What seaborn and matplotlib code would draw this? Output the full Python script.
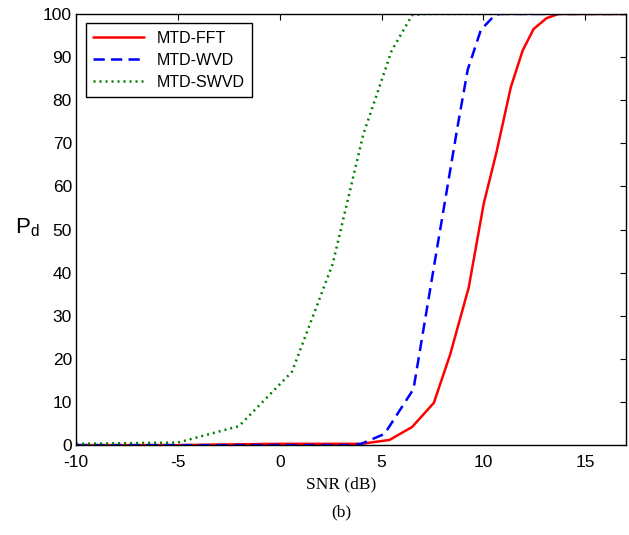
import matplotlib
matplotlib.use("Agg")
import matplotlib.pyplot as plt
import seaborn as sns
import pandas as pd

# ---- data ----
fft_snr = [-10, -5, 0, 2, 4, 5.39, 6.5, 7.57, 8.37, 9.28, 10.02, 10.65, 11.35, 11.93, 12.47, 13.1, 13.7, 17]
fft_pd = [0, 0, 0.3, 0.3, 0.3, 1.2, 4.2, 9.8, 21, 36.5, 56, 68, 83, 91.5, 96.5, 99, 100, 100]

wvd_snr = [-10, -5, 0, 3.5, 4.0, 5.15, 6.57, 7.65, 8.74, 9.23, 9.88, 10.46, 10.8, 17]
wvd_pd = [0, 0, 0, 0, 0.3, 2.6, 13, 43.5, 74, 87, 96.3, 99.2, 100, 100]

swvd_snr = [-10, -5, -2, 0.6, 2.6, 4.1, 5.5, 6.5, 7.2, 17]
swvd_pd = [0.3, 0.6, 4.4, 17, 42, 72, 91.5, 99.7, 100, 100]

labels = ["MTD-FFT", "MTD-WVD", "MTD-SWVD"]
colors = ["#ff0000", "#0000ff", "#008000"]
styles = ["-", (0, (4.5, 2.5)), (0, (0.8, 1.6))]

xticks = [-10, -5, 0, 5, 10, 15]
yticks = list(range(0, 101, 10))

frames = []
for lab, xs, ys in zip(labels, [fft_snr, wvd_snr, swvd_snr], [fft_pd, wvd_pd, swvd_pd]):
    frames.append(pd.DataFrame({"SNR": xs, "Pd": ys, "Method": lab}))
df = pd.concat(frames, ignore_index=True)

sns.set_theme(style="white")
plt.rcParams["font.family"] = ["Liberation Sans", "DejaVu Sans"]
plt.rcParams["axes.unicode_minus"] = False
plt.rcParams["text.color"] = "black"
plt.rcParams["axes.labelcolor"] = "black"
plt.rcParams["mathtext.fontset"] = "custom"
plt.rcParams["mathtext.rm"] = "Liberation Sans"
plt.rcParams["mathtext.it"] = "Liberation Sans"

fig = plt.figure(figsize=(6.29, 5.35), dpi=100)
ax = fig.add_axes([0.121, 0.168, 0.874, 0.806])

for lab, col, ls in zip(labels, colors, styles):
    sub = df[df["Method"] == lab]
    sns.lineplot(data=sub, x="SNR", y="Pd", ax=ax, color=col, linestyle=ls,
                 linewidth=1.8, label=lab, sort=False, estimator=None)

ax.set_xlim(-10, 17)
ax.set_ylim(0, 100)
ax.set_xticks(xticks)
ax.set_yticks(yticks)
ax.tick_params(direction="in", top=True, right=True, length=4, width=0.8,
               labelsize=12.5, colors="black")
ax.tick_params(axis="x", pad=7)
ax.tick_params(axis="y", pad=3)
for s in ax.spines.values():
    s.set_color("black")
    s.set_linewidth(1.0)
ax.set_xlabel("")
ax.set_ylabel("")

leg = ax.legend(loc="upper left", fontsize=11.5, frameon=True, fancybox=False,
                edgecolor="black", framealpha=1, handlelength=3.2,
                borderaxespad=0.6, labelspacing=0.45, borderpad=0.45)
leg.get_frame().set_linewidth(1.0)
for t in leg.get_texts():
    t.set_color("black")

fig.text(0.543, 0.095, "SNR (dB)", ha="center", va="center", fontsize=12.5,
         family=["Liberation Serif", "DejaVu Serif"])
fig.text(0.543, 0.043, "(b)", ha="center", va="center", fontsize=12.5,
         family=["Liberation Serif", "DejaVu Serif"])
fig.text(0.043, 0.575, r"P$_{\mathrm{d}}$", ha="center", va="center", fontsize=16)

fig.savefig("out.png", dpi=100)
